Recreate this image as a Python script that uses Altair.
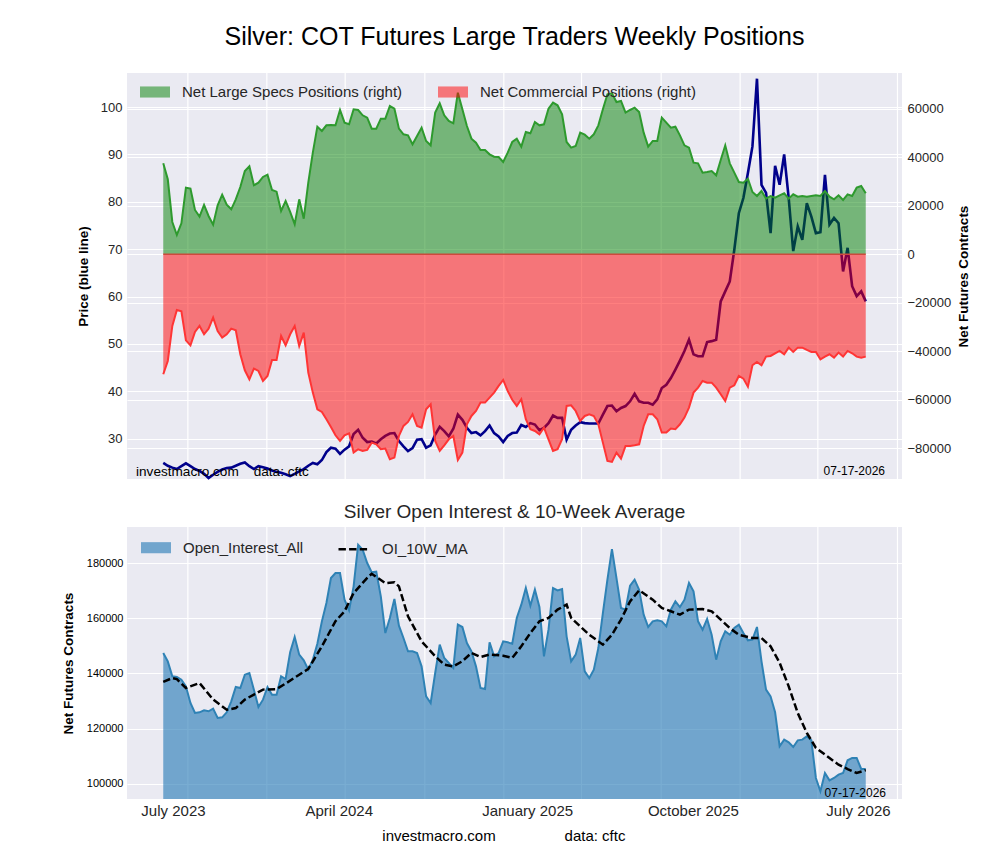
import altair as alt
import pandas as pd

FONT = "Liberation Sans"

# ---- weekly COT data (Tuesday report dates, first week below) ----
first_week = "2023-07-25"

specs_net = [
    37540, 30940, 13340, 7975, 12790, 27500, 27090, 18290, 15540, 20350,
    15810, 12240, 20210, 24610, 20490, 18560, 22690, 27780, 34380, 36300,
    28460, 29560, 31900, 32860, 26540, 25850, 17880, 22000, 17460, 12380,
    22690, 14710, 29560, 41940, 52660, 50880, 53210, 53350, 53280, 59540,
    54310, 53630, 59810, 59540, 57340, 56380, 51840, 51840, 55960, 55960,
    61190, 60090, 51840, 49500, 49090, 45380, 48810, 52250, 46750, 44960,
    58440, 62290, 57340, 55000, 54040, 66690, 59810, 52940, 47710, 46060,
    43040, 43040, 41250, 40290, 40150, 38090, 41940, 46340, 47710, 44410,
    50460, 49910, 54590, 53210, 53630, 60090, 62560, 61460, 57750, 46340,
    44000, 44690, 50190, 49360, 47710, 49500, 53210, 59810, 66000, 66410,
    62840, 63250, 58440, 59540, 60500, 58710, 50190, 44410, 46750, 46750,
    56380, 54310, 52250, 52660, 49090, 44960, 44000, 37810, 37540, 33690,
    33960, 34380, 32590, 38910, 44960, 37540, 33690, 29840, 29560, 31210,
    25710, 24060, 26130, 22960, 24060, 23380, 24340, 25160, 22960, 24750,
    23790, 24060, 23790, 24060, 24340, 24060, 26130, 23790, 22690, 24340,
    22410, 24750, 24060, 27500, 28190, 25160,
]

commercial_net = [
    -49500, -44000, -29560, -22960, -23510, -35480, -37540, -32040, -29560, -33000,
    -30660, -26130, -31630, -34380, -33000, -30660, -31350, -41250, -47850, -51560,
    -47160, -48130, -52250, -50190, -43590, -43590, -33690, -37540, -33000, -29560,
    -37810, -32310, -48810, -57060, -63940, -65040, -68060, -71230, -74660, -77000,
    -74660, -73840, -81810, -80440, -81130, -80710, -77690, -78380, -80440, -80160,
    -84560, -83880, -74940, -70810, -69160, -66000, -70810, -71500, -63940, -61880,
    -77000, -81130, -78790, -76310, -74940, -84840, -81810, -70130, -66690, -64630,
    -61190, -61190, -59130, -57060, -54310, -51840, -56380, -60000, -62560, -59810,
    -68060, -72190, -72880, -74250, -71500, -76310, -81130, -80440, -76310, -62560,
    -62290, -64630, -68750, -66690, -66000, -66690, -70130, -77690, -85250, -85660,
    -81810, -84290, -79060, -79060, -78790, -78380, -70810, -66000, -66000, -68060,
    -73560, -73560, -71910, -72190, -70130, -67380, -63250, -57060, -55000, -52250,
    -52940, -52940, -55000, -57750, -60500, -55000, -54040, -50190, -51290, -54590,
    -45790, -44410, -45790, -42210, -41940, -40840, -39880, -41250, -38500, -40290,
    -38500, -38500, -39460, -40290, -40290, -43310, -42210, -41250, -42630, -40560,
    -42210, -39880, -40840, -42210, -42630, -42210,
]

silver_price = [
    24.9, 24.3, 23.9, 23.6, 24.2, 24.8, 24.2, 23.6, 23.2, 22.6,
    21.7, 22.4, 23.0, 23.5, 23.8, 23.9, 24.3, 24.7, 25.0, 24.2,
    23.6, 24.2, 24.0, 23.7, 23.3, 23.0, 22.8, 22.5, 22.1, 22.6,
    23.1, 23.6, 24.3, 24.9, 24.6, 25.5, 27.2, 28.1, 27.9, 26.8,
    27.7, 28.4, 31.0, 31.9, 30.2, 29.3, 29.4, 29.0, 29.9, 30.6,
    31.1, 31.2, 29.5, 28.4, 27.4, 28.0, 29.8, 29.9, 28.1, 28.6,
    30.9, 32.5, 31.6, 30.5, 32.1, 35.1, 34.0, 32.3, 31.2, 31.4,
    30.7, 31.6, 32.8, 31.2, 30.5, 29.3, 30.6, 31.2, 31.3, 32.9,
    32.5, 33.3, 33.0, 31.8, 32.3, 33.3, 34.9, 34.4, 34.4, 29.8,
    31.9, 32.8, 33.5, 33.3, 33.2, 33.2, 33.2, 35.1, 36.9, 37.0,
    35.8, 36.5, 36.9, 37.9, 39.5, 37.9, 37.6, 37.6, 37.2, 38.3,
    40.7, 41.4, 42.8, 44.6, 46.5, 48.5, 50.9, 47.8, 47.4, 47.4,
    50.4, 50.6, 50.9, 59.0, 61.1, 63.2, 69.9, 77.6, 80.8, 86.1,
    91.7, 106.0, 83.6, 81.9, 73.4, 87.6, 83.6, 90.0, 80.8, 69.6,
    74.8, 72.0, 79.7, 76.9, 73.4, 73.6, 85.7, 75.2, 76.6, 75.5,
    65.3, 70.3, 62.2, 60.1, 61.1, 59.0,
]

open_interest = [
    147370, 144350, 138920, 138680, 137710, 135300, 129260, 125640, 125870, 126600,
    126240, 127200, 123820, 124060, 125870, 129860, 135050, 134690, 139520, 140120,
    134080, 127800, 130460, 135050, 132270, 132270, 138920, 137950, 147620, 153180,
    146780, 144720, 141330, 144960, 150760, 158850, 165500, 174550, 176360, 176360,
    166700, 162830, 171530, 186630, 184820, 179990, 176610, 176850, 167910, 154620,
    160060, 166940, 157280, 152810, 147980, 147980, 147370, 142540, 131670, 129260,
    140120, 150390, 145560, 143750, 141930, 157640, 156790, 150990, 147980, 142540,
    134690, 134330, 151240, 146170, 147370, 151600, 151240, 150750, 160060, 164890,
    170930, 164530, 170330, 164040, 146170, 155830, 170930, 170080, 170570, 153410,
    144350, 146770, 152810, 140730, 138310, 141330, 149180, 161870, 173950, 185060,
    174550, 163680, 163080, 171780, 173950, 170330, 161270, 156800, 158850, 159210,
    158850, 157040, 163080, 166100, 164040, 166700, 172740, 169720, 158850, 155830,
    159690, 154010, 144950, 151600, 155220, 154010, 156430, 157640, 154620, 151960,
    152200, 156800, 144350, 134080, 131670, 125870, 113550, 115960, 114990, 113300,
    115720, 115960, 117170, 115720, 102070, 97240, 103880, 101220, 102070, 103280,
    103880, 108470, 109320, 109320, 105330, 105330,
]

# 10-week moving average of open interest (week number, value)
ma_weeks = [
    0, 2, 3, 5, 8, 11, 14, 16, 18, 20, 22, 25, 27, 30, 32, 35, 38, 40, 42, 45,
    46, 49, 51, 52, 54, 57, 60, 62, 64, 66, 68, 70, 72, 75, 77, 79, 81, 83, 85, 87,
    89, 90, 92, 94, 97, 99, 101, 103, 105, 108, 110, 112, 114, 116, 119, 121, 123, 125, 127, 130,
    132, 134, 136, 138, 140, 142, 144, 147, 149, 151, 153, 155,
]
ma_values = [
    136900, 138300, 137900, 134700, 136500, 130500, 126800, 127400, 130500, 132300,
    134100, 134300, 136300, 139500, 141600, 149800, 158900, 162500, 169100, 174600,
    176100, 172700, 173000, 171500, 160700, 151600, 146200, 143200, 142500, 144400,
    147400, 145900, 146800, 146400, 145600, 149800, 154600, 158900, 160100, 163100,
    164900, 160100, 157000, 154000, 150400, 154000, 159500, 166100, 170100, 166700,
    163700, 162500, 161300, 163100, 163300, 162500, 159500, 156400, 154000, 152800,
    152800, 149800, 143800, 135300, 125600, 118400, 113000, 109300, 106900, 105300,
    103900, 104900,
]

# vertical grid (every four months) and date axis labels
grid_dates = [
    "2023-09-01", "2024-01-01", "2024-05-01", "2024-09-01", "2025-01-01",
    "2025-05-01", "2025-09-01", "2026-01-01", "2026-05-01", "2026-09-01",
]
tick_dates = ["2023-08-09", "2024-04-21", "2025-02-06", "2025-10-20", "2026-07-02"]
tick_names = ["July 2023", "April 2024", "January 2025", "October 2025", "July 2026"]

report_label = "07-17-2026"

# ---- frames ----
start = pd.Timestamp(first_week)


def iso(ts):
    return ts.strftime("%Y-%m-%dT00:00:00")


dates = [iso(start + pd.Timedelta(weeks=i)) for i in range(len(specs_net))]
SPECS = "Net Large Specs Positions (right)"
COMM = "Net Commercial Positions (right)"

price_df = pd.DataFrame({"date": dates, "value": silver_price})
specs_df = pd.DataFrame({"date": dates, "value": specs_net, "pos_series": SPECS})
comm_df = pd.DataFrame({"date": dates, "value": commercial_net, "pos_series": COMM})
zero_df = pd.DataFrame({"date": [dates[0], dates[-1]], "value": [0, 0]})
oi_df = pd.DataFrame({"date": dates, "value": open_interest, "oi_series": "Open_Interest_All"})
ma_df = pd.DataFrame({
    "date": [iso(start + pd.Timedelta(weeks=w)) for w in ma_weeks],
    "value": ma_values,
    "line_name": "OI_10W_MA",
})
grid_df = pd.DataFrame({"date": [d + "T00:00:00" for d in grid_dates]})


def dt(s):
    return alt.DateTime(year=int(s[:4]), month=int(s[5:7]), date=int(s[8:10]))


x_dom = [dt("2023-05-30"), dt("2026-09-08")]
label_expr = "".join(
    f"timeFormat(datum.value, '%Y-%m-%d') === '{d}' ? '{n}' : "
    for d, n in zip(tick_dates, tick_names)
) + "''"

W = 775
H_TOP = 406
H_BOT = 272
BG = "#EAEAF2"
TXT = "#262626"
SWATCH = "M-1,-0.37H1V0.37H-1Z"

x_top = alt.X("date:T", scale=alt.Scale(domain=x_dom), axis=None)
x_bot = alt.X(
    "date:T",
    scale=alt.Scale(domain=x_dom),
    axis=alt.Axis(
        values=[dt(d) for d in tick_dates], labelExpr=label_expr, title=None,
        grid=False, ticks=False, domain=False, labelFontSize=15, labelFont=FONT,
        labelColor=TXT, labelPadding=4, labelOverlap=False,
    ),
)


def note(text, x, y, size, align):
    return alt.Chart(pd.DataFrame({"t": [text]})).mark_text(
        align=align, baseline="middle", fontSize=size, font=FONT, color="black"
    ).encode(x=alt.value(x), y=alt.value(y), text="t:N")


# ---- top panel: price and net positions ----
vgrid_top = alt.Chart(grid_df).mark_rule(color="white", strokeWidth=1.2).encode(x=x_top)

left_axis = alt.Axis(
    orient="left", values=list(range(30, 101, 10)), format="d", title="Price (blue line)",
    titleFontSize=13.5, titleFontWeight="bold", titleFont=FONT, titleColor="black",
    titlePadding=10, labelFontSize=13, labelFont=FONT, labelColor=TXT, labelPadding=5,
    ticks=False, domain=False, grid=True, gridColor="white", gridWidth=1.2,
)
right_axis = alt.Axis(
    orient="right", values=list(range(-80000, 60001, 20000)), format="d",
    title="Net Futures Contracts", titleFontSize=13.5, titleFontWeight="bold",
    titleFont=FONT, titleColor="black", titlePadding=6, titleAngle=270,
    titleBaseline="top", labelFontSize=13, labelFont=FONT,
    labelColor=TXT, labelPadding=5, ticks=False, domain=False, grid=True,
    gridColor="white", gridWidth=1.2,
)

price_line = alt.Chart(price_df).mark_line(color="#00008B", strokeWidth=2.6).encode(
    x=x_top,
    y=alt.Y("value:Q", scale=alt.Scale(domain=[21.5, 107.2], nice=False, zero=False), axis=left_axis),
)

pos_y = alt.Y("value:Q", scale=alt.Scale(domain=[-92700, 74800], nice=False, zero=False), axis=right_axis)
top_color = alt.Color(
    "pos_series:N",
    scale=alt.Scale(domain=[SPECS, COMM], range=["#008000", "#FF0000"]),
    legend=alt.Legend(
        title=None, orient="none", legendX=13, legendY=4, direction="horizontal",
        symbolType=SWATCH, symbolSize=900, symbolOpacity=0.5,
        symbolStrokeWidth=0, labelFontSize=15, labelFont=FONT, labelColor=TXT,
        labelOffset=12, labelLimit=0, columnPadding=35, padding=0,
    ),
)
specs_area = alt.Chart(specs_df).mark_area(fillOpacity=0.5).encode(
    x=x_top, y=pos_y, y2=alt.datum(0), color=top_color
)
comm_area = alt.Chart(comm_df).mark_area(fillOpacity=0.5).encode(
    x=x_top, y=pos_y, y2=alt.datum(0), color=top_color
)
specs_line = alt.Chart(specs_df).mark_line(color="#2E9A2E", strokeWidth=2).encode(x=x_top, y=pos_y)
comm_line = alt.Chart(comm_df).mark_line(color="#FF3535", strokeWidth=2).encode(x=x_top, y=pos_y)
zero_line = alt.Chart(zero_df).mark_line(color="#CC4A3C", strokeWidth=1.5).encode(x=x_top, y=pos_y)

positions = alt.layer(specs_area, comm_area, specs_line, comm_line, zero_line)

top = alt.layer(
    vgrid_top,
    price_line,
    positions,
    note("investmacro.com", 9, 398.5, 13.6, "left"),
    note("data: cftc", 126.7, 398.5, 13.6, "left"),
    note(report_label, 758, 397.5, 12, "right"),
).resolve_scale(y="independent").properties(
    width=W, height=H_TOP,
    title=alt.TitleParams(
        "Silver: COT Futures Large Traders Weekly Positions", fontSize=25,
        fontWeight="normal", font=FONT, color="black", anchor="middle",
        frame="group", offset=22,
    ),
)

# ---- bottom panel: open interest and its 10-week average ----
vgrid_bot = alt.Chart(grid_df).mark_rule(color="white", strokeWidth=1.2).encode(x=x_bot)

bot_y = alt.Y(
    "value:Q",
    scale=alt.Scale(domain=[94450, 193050], nice=False, zero=False),
    axis=alt.Axis(
        values=list(range(100000, 180001, 20000)), format="d", title="Net Futures Contracts",
        titleFontSize=13.5, titleFontWeight="bold", titleFont=FONT, titleColor="black",
        titlePadding=11, labelFontSize=11, labelFont=FONT, labelColor="black", labelPadding=4,
        ticks=False, domain=False, grid=True, gridColor="white", gridWidth=1.2,
    ),
)

oi_area = alt.Chart(oi_df).mark_area(fillOpacity=0.6, clip=True).encode(
    x=x_bot, y=bot_y, y2=alt.datum(0),
    color=alt.Color(
        "oi_series:N",
        scale=alt.Scale(domain=["Open_Interest_All"], range=["#1F77B4"]),
        legend=alt.Legend(
            title=None, orient="none", legendX=14, legendY=5.7,
            symbolType=SWATCH, symbolSize=900, symbolOpacity=0.6,
            symbolStrokeWidth=0, labelFontSize=15, labelFont=FONT, labelColor=TXT,
            labelOffset=12, labelLimit=0, padding=0,
        ),
    ),
)
oi_line = alt.Chart(oi_df).mark_line(color="#2F82B5", strokeWidth=2).encode(x=x_bot, y=bot_y)
ma_line = alt.Chart(ma_df).mark_line(color="black", strokeWidth=2.5).encode(
    x=x_bot, y=bot_y,
    strokeDash=alt.StrokeDash(
        "line_name:N",
        scale=alt.Scale(domain=["OI_10W_MA"], range=[[7.4, 3.2]]),
        legend=alt.Legend(
            title=None, orient="none", legendX=210, legendY=5.7, symbolType="stroke",
            symbolSize=900, symbolStrokeColor="black", symbolStrokeWidth=2.5,
            labelFontSize=15, labelFont=FONT, labelColor=TXT, labelOffset=12,
            labelLimit=0, padding=0,
        ),
    ),
)

bottom = alt.layer(
    vgrid_bot,
    oi_area,
    oi_line,
    ma_line,
    note(report_label, 759, 265.7, 12, "right"),
    note("investmacro.com", 312, 308.7, 15, "center"),
    note("data: cftc", 468, 308.7, 15, "center"),
).properties(
    width=W, height=H_BOT,
    title=alt.TitleParams(
        "Silver Open Interest & 10-Week Average", fontSize=19, fontWeight="normal",
        font=FONT, color=TXT, anchor="middle", frame="group", offset=4,
    ),
)

chart = alt.vconcat(top, bottom, spacing=19).resolve_scale(
    color="independent", strokeDash="independent"
).resolve_legend(
    color="independent", strokeDash="independent"
).properties(
    padding={"left": 61, "top": 25, "right": 5, "bottom": 5},
    background="white",
).configure_view(fill=BG, stroke=None)

chart.save("out.html", embed_options={"renderer": "svg", "actions": False})
